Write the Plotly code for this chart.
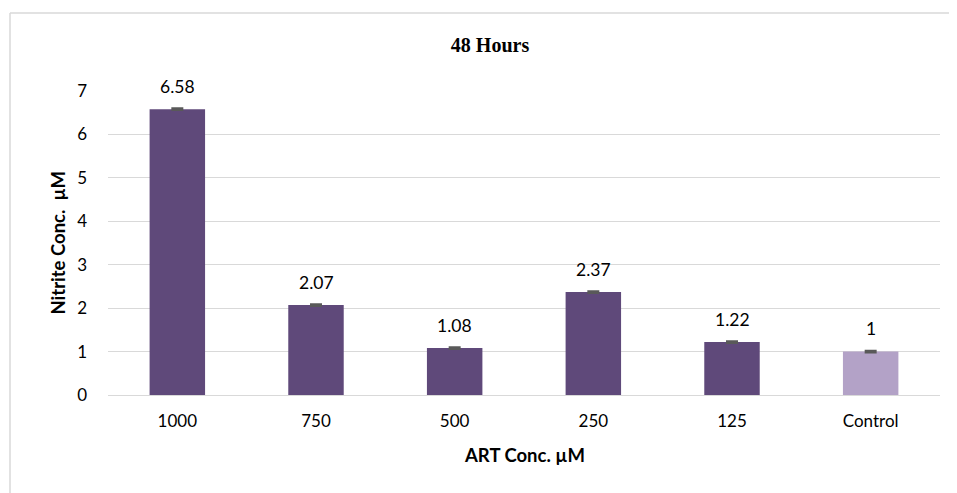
import plotly.graph_objects as go

categories = ["1000", "750", "500", "250", "125", "Control"]
values = [6.58, 2.07, 1.08, 2.37, 1.22, 1.0]
errors = [0.02, 0.02, 0.02, 0.02, 0.02, 0.02]
label_texts = ["6.58", "2.07", "1.08", "2.37", "1.22", "1"]
bar_colors = ["#5F497A", "#5F497A", "#5F497A", "#5F497A", "#5F497A", "#B3A2C7"]
y_ticks = [0, 1, 2, 3, 4, 5, 6, 7]

# page is rendered with an 8px body margin, so figure is 8px smaller
W, H = 949, 485
L, R, T, B = 100, 17, 83, 98
pw, ph = W - L - R, H - T - B

font_main = "Lato, 'Open Sans', sans-serif"

fig = go.Figure()
fig.add_trace(go.Bar(
    x=categories, y=values,
    marker=dict(color=bar_colors, line=dict(width=0)),
    width=0.40,
    error_y=dict(type="data", array=errors, visible=True, color="#595959", thickness=2, width=6),
    hoverinfo="x+y",
))

# data labels above each bar (category index positions)
for i, (v, t) in enumerate(zip(values, label_texts)):
    fig.add_annotation(x=i, y=v, text=t, showarrow=False, xref="x", yref="y",
                       yanchor="middle", yshift=23,
                       font=dict(family=font_main, size=17.5, color="#000000"))

fig.update_layout(
    width=W, height=H,
    margin=dict(l=L, r=R, t=T, b=B),
    paper_bgcolor="white", plot_bgcolor="white",
    showlegend=False,
    title=dict(text="<b>48 Hours</b>", x=(482 - L) / pw, xref="paper", xanchor="center",
               y=1 - 37 / H, yanchor="middle",
               font=dict(family="'Liberation Serif', 'Times New Roman', serif", size=20, color="#000000")),
    xaxis=dict(
        type="category", categoryorder="array", categoryarray=categories,
        range=[-0.5, len(categories) - 0.5],
        showgrid=False, showline=False, zeroline=False,
        tickfont=dict(family=font_main, size=17, color="#000000"),
        ticks="", ticklabelstandoff=14,
    ),
    yaxis=dict(
        range=[0, 7], tickvals=y_ticks, showgrid=True, gridcolor="#D9D9D9", gridwidth=1.3,
        zeroline=True, zerolinecolor="#D9D9D9", zerolinewidth=1.3,
        tickfont=dict(family=font_main, size=17, color="#000000"),
        ticks="", ticklabelstandoff=20,
    ),
)

# axis titles
fig.add_annotation(text="<b>ART Conc. µM</b>", xref="paper", yref="paper",
                   x=0.5, y=-(447 - (H - B)) / ph, xanchor="center", yanchor="middle",
                   showarrow=False, font=dict(family=font_main, size=18.5, color="#000000"))
fig.add_annotation(text="<b>Nitrite Conc.  µM</b>", xref="paper", yref="paper",
                   x=(49.5 - L) / pw, y=0.5, xanchor="center", yanchor="middle", textangle=-90,
                   showarrow=False, font=dict(family=font_main, size=18.5, color="#000000"))

# outer chart border (left and top visible)
x0 = (2 - L) / pw
y0 = (H - B - 5) / ph
fig.add_shape(type="line", xref="paper", yref="paper", x0=x0, x1=x0, y0=y0, y1=-(B + 5) / ph,
              line=dict(color="#D9D9D9", width=1.5))
fig.add_shape(type="line", xref="paper", yref="paper", x0=x0, x1=(W - L + 5) / pw, y0=y0, y1=y0,
              line=dict(color="#D9D9D9", width=1.5))

fig.write_html("out.html")
